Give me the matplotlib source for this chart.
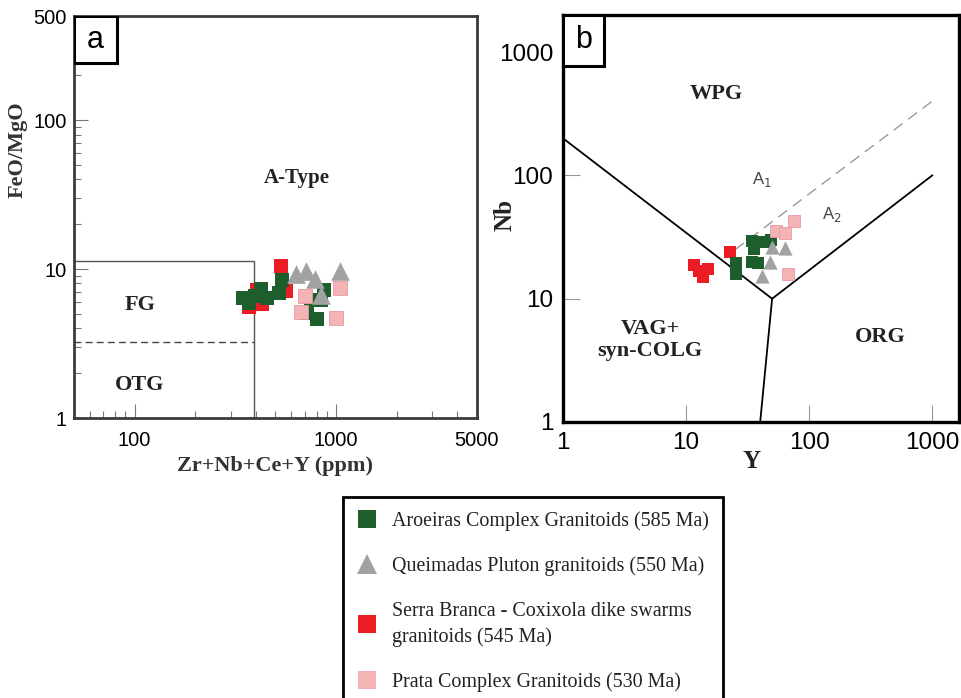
import matplotlib
matplotlib.use('Agg')
import matplotlib.pyplot as plt
from matplotlib.patches import Rectangle
from matplotlib.lines import Line2D
from matplotlib.ticker import FixedLocator, NullFormatter, FixedFormatter

SERIF = 'Liberation Serif'
SANS = 'Liberation Sans'

names = ['Aroeiras Complex Granitoids (585 Ma)',
         'Queimadas Pluton granitoids (550 Ma)',
         'Serra Branca - Coxixola dike swarms\ngranitoids (545 Ma)',
         'Prata Complex Granitoids (530 Ma)']
colors = ['#1d5e2c', '#a2a2a2', '#ec1c24', '#f4b4b6']
markers = ['s', '^', 's', 's']

# (a) Zr+Nb+Ce+Y (ppm) vs FeO/MgO
aro_a_x = [346, 371, 397, 425, 455, 522, 540, 718, 752, 805, 843, 873]
aro_a_y = [6.4, 5.9, 6.6, 7.4, 6.4, 6.9, 8.4, 5.1, 6.2, 4.6, 6.2, 7.2]
que_a_x = [634, 710, 787, 843, 1047]
que_a_y = [9.3, 9.7, 8.6, 6.7, 9.7]
ser_a_x = [371, 406, 430, 534, 566]
ser_a_y = [5.6, 7.2, 5.8, 10.5, 7.1]
pra_a_x = [671, 702, 1000, 1047]
pra_a_y = [5.15, 6.6, 4.7, 7.45]

# (b) Y vs Nb
aro_b_x = [25.5, 25.5, 34.4, 35.7, 43.1, 49.1, 34.4, 38.5]
aro_b_y = [19.3, 16.0, 29.6, 25.5, 29.1, 30.2, 20.0, 19.3]
que_b_x = [50.0, 63.8, 48.2, 41.5]
que_b_y = [26.5, 26.0, 20.0, 15.4]
ser_b_x = [11.6, 15.1, 13.7, 12.8, 22.8]
ser_b_y = [18.9, 17.5, 15.1, 16.9, 24.1]
pra_b_x = [53.9, 63.8, 75.5, 67.5]
pra_b_y = [35.7, 34.4, 42.3, 16.0]

fig = plt.figure(figsize=(9.62, 6.98), dpi=100)

# ---------------- panel a ----------------
axa = fig.add_axes([74/962, 1-418/698, 403/962, 402/698])
axa.set_xscale('log')
axa.set_yscale('log')
axa.set_xlim(50, 5000)
axa.set_ylim(1, 500)

# FG / OTG fields
axa.plot([50, 390, 390], [11.3, 11.3, 1], color='#555555', lw=1.0)
axa.plot([50, 390], [3.25, 3.25], color='#444444', lw=1.0, ls=(0, (5, 3)))

axa.scatter(ser_a_x, ser_a_y, marker='s', s=115, color=colors[2], lw=0, zorder=3)
axa.scatter(aro_a_x, aro_a_y, marker='s', s=115, color=colors[0], lw=0, zorder=3)
axa.scatter(pra_a_x, pra_a_y, marker='s', s=115, color=colors[3], edgecolor='#e59aa0', lw=0.6, zorder=3)
axa.scatter(que_a_x, que_a_y, marker='^', s=180, color=colors[1], lw=0, zorder=3)

axa.text(641, 40.8, 'A-Type', family=SERIF, weight='bold', fontsize=15, ha='center', va='center', color='#222222')
axa.text(106, 5.73, 'FG', family=SERIF, weight='bold', fontsize=16, ha='center', va='center', color='#222222')
axa.text(106, 1.66, 'OTG', family=SERIF, weight='bold', fontsize=16, ha='center', va='center', color='#222222')

for sp in axa.spines.values():
    sp.set_color('#3a3a3a')
    sp.set_linewidth(2.0)

axa.xaxis.set_major_locator(FixedLocator([100, 1000, 5000]))
axa.xaxis.set_major_formatter(FixedFormatter(['100', '1000', '5000']))
axa.xaxis.set_minor_locator(FixedLocator([60, 70, 80, 90, 200, 300, 400, 500, 600, 700, 800, 900,
                                          2000, 3000, 4000]))
axa.xaxis.set_minor_formatter(NullFormatter())
axa.yaxis.set_major_locator(FixedLocator([1, 10, 100, 500]))
axa.yaxis.set_major_formatter(FixedFormatter(['1', '10', '100', '500']))
axa.yaxis.set_minor_locator(FixedLocator([2, 3, 4, 5, 6, 7, 8, 9, 20, 30, 40, 50, 60, 70, 80, 90,
                                          200, 300, 400]))
axa.yaxis.set_minor_formatter(NullFormatter())
axa.tick_params(which='major', direction='in', length=10, width=0.8, color='#777777',
                labelsize=14.5, pad=5)
axa.tick_params(axis='x', which='major', pad=9)
axa.tick_params(which='minor', direction='in', length=5, width=0.8, color='#777777')
for lab in axa.get_xticklabels() + axa.get_yticklabels():
    lab.set_family(SANS)

axa.add_patch(Rectangle((0, 1-0.117), 0.107, 0.117, transform=axa.transAxes,
                        fill=True, facecolor='white', edgecolor='black', lw=2.2, zorder=5))
axa.text(0.0535, 1-0.0585, 'a', transform=axa.transAxes, family=SANS, fontsize=22,
         ha='center', va='center', zorder=6)

fig.text(18/962, 1-150/698, 'FeO/MgO', rotation=90, family=SERIF, weight='bold',
         fontsize=16, ha='center', va='center', color='#333333')
fig.text(275/962, 1-466/698, 'Zr+Nb+Ce+Y (ppm)', family=SERIF, weight='bold',
         fontsize=16, ha='center', va='center', color='#333333')

# ---------------- panel b ----------------
axb = fig.add_axes([563/962, 1-422/698, 396/962, 407/698])
axb.set_xscale('log')
axb.set_yscale('log')
axb.set_xlim(1, 1650)
axb.set_ylim(1, 2000)

axb.plot([1, 50], [200, 10], color='black', lw=1.3)
axb.plot([50, 1000], [10, 100], color='black', lw=1.3)
axb.plot([50, 40], [10, 1], color='black', lw=1.3)
axb.plot([25, 1000], [25, 400], color='#9a9a9a', lw=1.0, ls=(0, (8, 5)))

axb.scatter(ser_b_x, ser_b_y, marker='s', s=80, color=colors[2], lw=0, zorder=3)
axb.scatter(aro_b_x, aro_b_y, marker='s', s=80, color=colors[0], lw=0, zorder=3)
axb.scatter(pra_b_x, pra_b_y, marker='s', s=80, color=colors[3], edgecolor='#e59aa0', lw=0.6, zorder=3)
axb.scatter(que_b_x, que_b_y, marker='^', s=105, color=colors[1], lw=0, zorder=3)

axb.text(17.5, 456, 'WPG', family=SERIF, weight='bold', fontsize=16, ha='center', va='center', color='#222222')
axb.text(5.1, 4.64, 'VAG+\nsyn-COLG', family=SERIF, weight='bold', fontsize=16, ha='center',
         va='center', linespacing=1.15, color='#222222')
axb.text(378, 4.91, 'ORG', family=SERIF, weight='bold', fontsize=16, ha='center', va='center', color='#222222')
axb.text(41.5, 92.7, r'A$_1$', family=SANS, fontsize=12, ha='center', va='center', color='#444444')
axb.text(154, 48.2, r'A$_2$', family=SANS, fontsize=12, ha='center', va='center', color='#444444')

for sp in axb.spines.values():
    sp.set_color('black')
    sp.set_linewidth(2.4)

axb.xaxis.set_major_locator(FixedLocator([1, 10, 100, 1000]))
axb.xaxis.set_major_formatter(FixedFormatter(['1', '10', '100', '1000']))
axb.xaxis.set_minor_locator(FixedLocator([]))
axb.yaxis.set_major_locator(FixedLocator([1, 10, 100, 1000]))
axb.yaxis.set_major_formatter(FixedFormatter(['1', '10', '100', '1000']))
axb.yaxis.set_minor_locator(FixedLocator([]))
axb.tick_params(which='major', direction='in', length=12, width=0.8, color='#999999',
                labelsize=17.5, pad=7)
for lab in axb.get_xticklabels() + axb.get_yticklabels():
    lab.set_family(SANS)

axb.add_patch(Rectangle((0, 1-0.125), 0.104, 0.125, transform=axb.transAxes,
                        fill=True, facecolor='white', edgecolor='black', lw=2.2, zorder=5))
axb.text(0.052, 1-0.0625, 'b', transform=axb.transAxes, family=SANS, fontsize=22,
         ha='center', va='center', zorder=6)

fig.text(505/962, 1-215/698, 'Nb', rotation=90, family=SERIF, weight='bold',
         fontsize=18, ha='center', va='center', color='#222222')
fig.text(752/962, 1-462/698, 'Y', family=SERIF, weight='bold',
         fontsize=18, ha='center', va='center', color='#222222')

# ---------------- legend ----------------
handles = [Line2D([], [], ls='none', marker=m, color=c, markersize=(15 if m == '^' else 12.5),
                  markeredgewidth=0) for m, c in zip(markers, colors)]
leg = fig.legend(handles, names, loc='upper left', bbox_to_anchor=(343/962, 1-497/698),
                 frameon=True, fancybox=False, edgecolor='black', framealpha=1,
                 prop={'family': SERIF, 'size': 14.4}, handlelength=1.0, handletextpad=0.75,
                 borderpad=0.7, labelspacing=1.28, borderaxespad=0)
leg.get_frame().set_linewidth(2.0)
for t in leg.get_texts():
    t.set_linespacing(1.45)
    t.set_color('#222222')

fig.savefig('out.png', dpi=100)
